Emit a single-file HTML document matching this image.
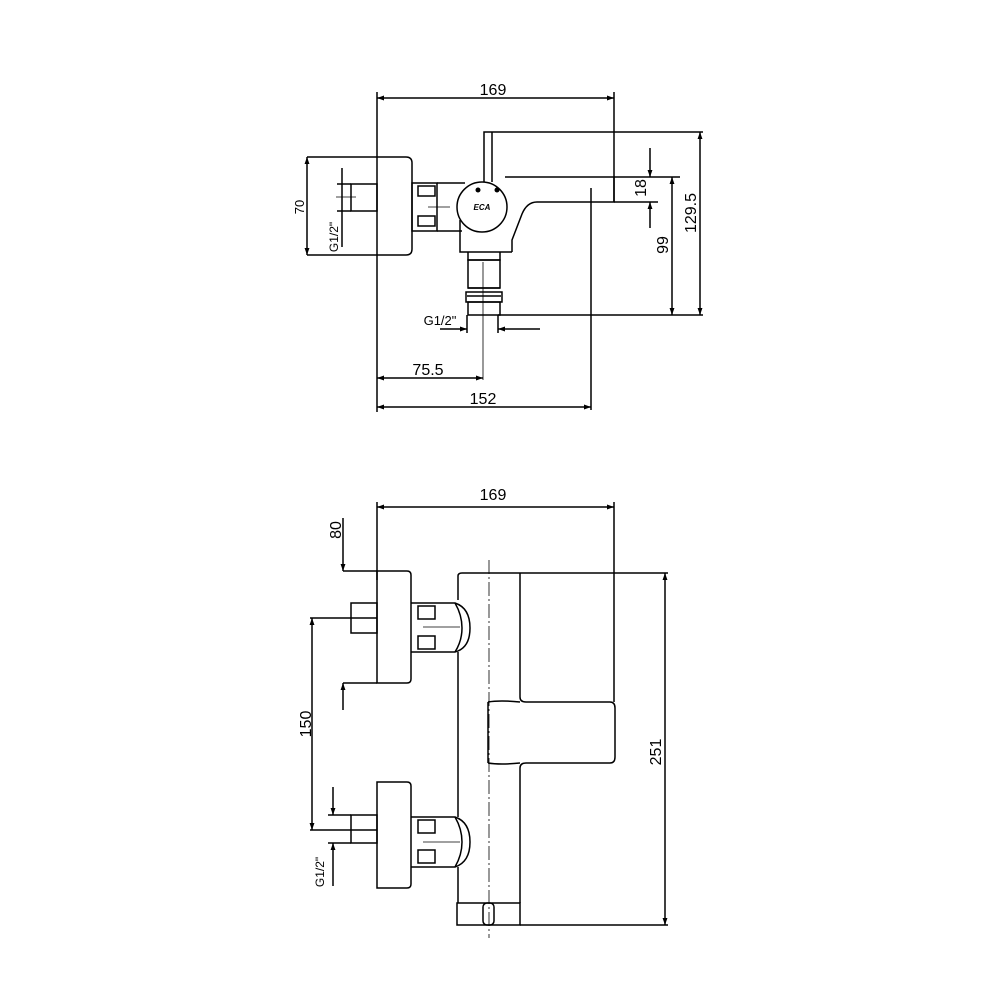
<!DOCTYPE html>
<html><head><meta charset="utf-8"><style>
html,body{margin:0;padding:0;background:#fff}
svg{display:block}
text{font-family:"Liberation Sans",sans-serif;fill:#000}
</style></head><body>
<svg width="1000" height="1000" viewBox="0 0 1000 1000" xmlns="http://www.w3.org/2000/svg">
<defs>
<marker id="a" viewBox="0 0 10 10" refX="10" refY="5" markerWidth="9" markerHeight="7" orient="auto-start-reverse" markerUnits="userSpaceOnUse"><path d="M0,1.5 L10,5 L0,8.5 z" fill="#000"/></marker>
</defs>
<g fill="none" stroke="#000" stroke-width="1.5">
<!-- ===== TOP VIEW ===== -->
<line x1="377" y1="98" x2="614" y2="98" marker-start="url(#a)" marker-end="url(#a)"/>
<line x1="377" y1="92" x2="377" y2="412"/>
<line x1="614" y1="92" x2="614" y2="202"/>
<path d="M307,157 H406 Q412,157 412,163 V249 Q412,255 406,255 H307"/>
<line x1="307" y1="157" x2="307" y2="255" marker-start="url(#a)" marker-end="url(#a)"/>
<rect x="351" y="184" width="26" height="27"/>
<line x1="342" y1="168" x2="342" y2="247"/>
<line x1="337" y1="184" x2="351" y2="184"/>
<line x1="337" y1="211" x2="351" y2="211"/>
<line x1="336" y1="197" x2="356" y2="197" stroke-width="0.8"/>
<rect x="412" y="183" width="25" height="48"/>
<rect x="418" y="186" width="17" height="10"/>
<rect x="418" y="216" width="17" height="10"/>
<line x1="437" y1="183" x2="465" y2="183"/>
<line x1="437" y1="231" x2="462" y2="231"/>
<line x1="428" y1="207" x2="450" y2="207" stroke-width="0.8"/>
<circle cx="482" cy="207" r="25"/>
<path d="M484,182 V132 H703"/>
<line x1="492" y1="132" x2="492" y2="182"/>
<path d="M505,177 H614 V202 H537 Q527,202 522,214 L512,240 V252"/>
<path d="M460,220 V252 H512"/>
<path d="M468,252 V260 H500 V252"/>
<rect x="468" y="260" width="32" height="28"/>
<path d="M468,288 H500 M466,292 H502 V302 H466 Z"/>
<line x1="467" y1="296" x2="501" y2="296"/>
<rect x="468" y="302" width="32" height="13"/>
<line x1="483" y1="262" x2="483" y2="380" stroke-width="0.8"/>
<line x1="498" y1="315" x2="703" y2="315"/>
<line x1="591" y1="188" x2="591" y2="410"/>
<line x1="614" y1="177" x2="680" y2="177"/>
<line x1="614" y1="202" x2="658" y2="202"/>
<line x1="650" y1="148" x2="650" y2="177" marker-end="url(#a)"/>
<line x1="650" y1="228" x2="650" y2="202" marker-end="url(#a)"/>
<line x1="672" y1="177" x2="672" y2="315" marker-start="url(#a)" marker-end="url(#a)"/>
<line x1="700" y1="132" x2="700" y2="315" marker-start="url(#a)" marker-end="url(#a)"/>
<line x1="440" y1="329" x2="467" y2="329" marker-end="url(#a)"/>
<line x1="540" y1="329" x2="498" y2="329" marker-end="url(#a)"/>
<line x1="467" y1="315" x2="467" y2="333"/>
<line x1="498" y1="315" x2="498" y2="333"/>
<line x1="377" y1="378" x2="483" y2="378" marker-start="url(#a)" marker-end="url(#a)"/>
<line x1="377" y1="407" x2="591" y2="407" marker-start="url(#a)" marker-end="url(#a)"/>

<!-- ===== FRONT VIEW ===== -->
<line x1="377" y1="507" x2="614" y2="507" marker-start="url(#a)" marker-end="url(#a)"/>
<line x1="377" y1="502" x2="377" y2="580"/>
<line x1="614" y1="502" x2="614" y2="702"/>
<line x1="343" y1="518" x2="343" y2="571" marker-end="url(#a)"/>
<line x1="343" y1="710" x2="343" y2="683" marker-end="url(#a)"/>
<line x1="343" y1="571" x2="377" y2="571"/>
<line x1="343" y1="683" x2="377" y2="683"/>
<path d="M377,571 H407 Q411,571 411,575 V679 Q411,683 407,683 H377 Z"/>
<rect x="351" y="603" width="26" height="30"/>
<line x1="310" y1="618" x2="377" y2="618"/>
<line x1="310" y1="830" x2="377" y2="830"/>
<line x1="312" y1="618" x2="312" y2="830" marker-start="url(#a)" marker-end="url(#a)"/>
<path d="M411,603 H455 Q470,608 470,628 Q470,648 455,652 H411"/>
<path d="M455,603 Q462,615 462,628 Q462,641 455,652"/>
<rect x="418" y="606" width="17" height="13"/>
<rect x="418" y="636" width="17" height="13"/>
<line x1="423" y1="627" x2="460" y2="627" stroke-width="0.8"/>
<path d="M458,600 V576 Q458,573 462,573 H668"/>
<line x1="458" y1="652" x2="458" y2="817"/>
<line x1="458" y1="867" x2="458" y2="903"/>
<path d="M520,573 V697 Q520,702 526,702 H610 Q615,702 615,708 V757 Q615,763 610,763 H526 Q520,763 520,768 V903"/>
<path d="M488,702 Q500,700 520,702 M488,763 Q500,765 520,763"/>
<line x1="488" y1="702" x2="488" y2="763"/>
<rect x="457" y="903" width="63" height="22"/>
<rect x="483" y="903" width="11" height="22" rx="4"/>
<line x1="489" y1="560" x2="489" y2="938" stroke-dasharray="14,3,2,3" stroke-width="0.8"/>
<line x1="520" y1="925" x2="668" y2="925"/>
<line x1="665" y1="573" x2="665" y2="925" marker-start="url(#a)" marker-end="url(#a)"/>
<path d="M377,782 H407 Q411,782 411,786 V884 Q411,888 407,888 H377 Z"/>
<rect x="351" y="815" width="26" height="28"/>
<path d="M411,817 H455 Q470,822 470,842 Q470,862 455,867 H411"/>
<path d="M455,817 Q462,829 462,842 Q462,855 455,867"/>
<rect x="418" y="820" width="17" height="13"/>
<rect x="418" y="850" width="17" height="13"/>
<line x1="423" y1="842" x2="460" y2="842" stroke-width="0.8"/>
<line x1="333" y1="787" x2="333" y2="815" marker-end="url(#a)"/>
<line x1="333" y1="886" x2="333" y2="843" marker-end="url(#a)"/>
<line x1="328" y1="815" x2="351" y2="815"/>
<line x1="328" y1="843" x2="351" y2="843"/>
</g>
<g fill="#000" stroke="none">
<circle cx="478" cy="190" r="2.5"/><circle cx="497" cy="190" r="2.5"/>
</g>
<text x="482" y="210" font-size="8" font-style="italic" font-weight="bold" text-anchor="middle">ECA</text>
<g font-size="16" text-anchor="middle">
<text x="493" y="95">169</text>
<text x="428" y="375">75.5</text>
<text x="483" y="404">152</text>
<text x="440" y="325" font-size="13">G1/2"</text>
<text transform="translate(304,207) rotate(-90)" font-size="13">70</text>
<text transform="translate(338,237) rotate(-90)" font-size="12">G1/2"</text>
<text transform="translate(646,188) rotate(-90)">18</text>
<text transform="translate(668,245) rotate(-90)">99</text>
<text transform="translate(696,213) rotate(-90)">129.5</text>
<text x="493" y="500">169</text>
<text transform="translate(341,530) rotate(-90)">80</text>
<text transform="translate(311,724) rotate(-90)">150</text>
<text transform="translate(661,752) rotate(-90)">251</text>
<text transform="translate(324,872) rotate(-90)" font-size="12">G1/2"</text>
</g>
</svg>
</body></html>
